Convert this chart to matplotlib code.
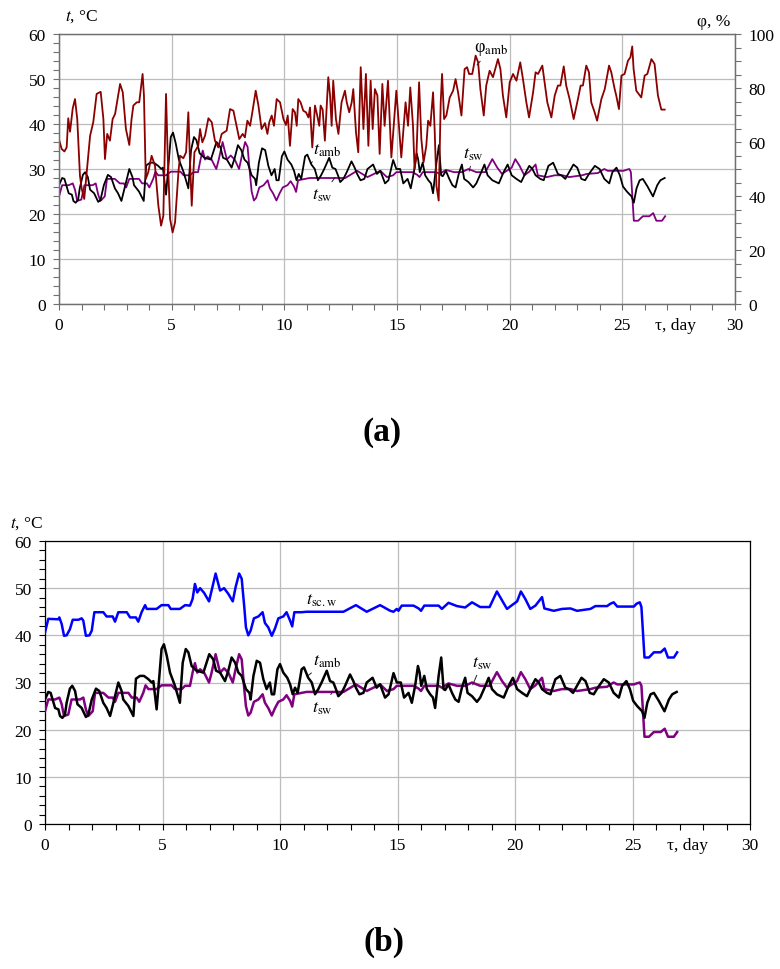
import matplotlib
matplotlib.use("Agg")
import matplotlib.pyplot as plt
from matplotlib.ticker import MultipleLocator

plt.rcParams['font.family'] = ['Liberation Serif', 'DejaVu Serif']
plt.rcParams['mathtext.fontset'] = 'stix'
plt.rcParams['font.size'] = 12

# ---------- data (days, values) ----------
# ambient temperature t_amb, °C
amb_day = [0, 0.14, 0.24, 0.43, 0.57, 0.64, 0.74, 0.85, 0.92, 1.06,
           1.16, 1.28, 1.38, 1.56, 1.74, 1.84, 1.99, 2.17, 2.31, 2.48,
           2.62, 2.77, 2.91, 3.12, 3.26, 3.33, 3.55, 3.76, 3.87, 4.04,
           4.21, 4.4, 4.54, 4.61, 4.75, 4.82, 4.96, 5.06, 5.18, 5.32,
           5.53, 5.74, 5.86, 5.99, 6.1, 6.24, 6.45, 6.74, 6.99, 7.16,
           7.28, 7.45, 7.66, 7.8, 7.94, 8.09, 8.23, 8.37, 8.55, 8.7,
           8.75, 8.87, 9.01, 9.15, 9.29, 9.43, 9.57, 9.65, 9.75, 9.89,
           10.0, 10.14, 10.31, 10.43, 10.54, 10.64, 10.75, 10.92, 11.02, 11.2,
           11.35, 11.49, 11.63, 11.77, 11.99, 12.13, 12.27, 12.38, 12.48, 12.62,
           12.77, 12.98, 13.12, 13.23, 13.38, 13.55, 13.69, 13.94, 14.11, 14.26,
           14.47, 14.62, 14.83, 14.97, 15.14, 15.28, 15.47, 15.61, 15.75, 15.87,
           15.94, 16.01, 16.14, 16.25, 16.39, 16.51, 16.6, 16.75, 16.86, 16.96,
           17.03, 17.17, 17.32, 17.46, 17.6, 17.74, 17.88, 17.98, 18.17, 18.38,
           18.52, 18.74, 18.88, 19.02, 19.23, 19.52, 19.73, 19.91, 20.09, 20.3,
           20.51, 20.72, 20.87, 21.01, 21.15, 21.36, 21.51, 21.72, 21.93, 22.14,
           22.29, 22.47, 22.64, 22.83, 23.0, 23.18, 23.35, 23.52, 23.78, 23.99,
           24.2, 24.42, 24.56, 24.74, 24.89, 25.03, 25.2, 25.41, 25.51, 25.63,
           25.77, 25.91, 26.12, 26.36, 26.55, 26.69, 26.88]
amb_val = [26.4, 28.0, 27.8, 24.6, 24.3, 22.9, 22.5, 23.2, 25.7, 28.7,
           29.3, 28.2, 25.4, 24.6, 22.7, 23.1, 26.4, 28.7, 28.2, 25.7,
           24.6, 22.9, 25.7, 30.0, 28.2, 26.4, 25.0, 22.9, 30.8, 31.4,
           31.4, 30.7, 30.0, 30.3, 24.3, 28.6, 37.1, 38.1, 35.7, 32.1,
           29.3, 25.7, 34.2, 37.1, 36.4, 33.5, 32.5, 32.1, 36.0, 34.9,
           32.5, 32.1, 30.3, 32.5, 35.3, 34.2, 32.1, 31.4, 28.6, 27.8,
           26.4, 31.4, 34.6, 34.2, 30.7, 28.6, 30.0, 27.5, 27.5, 32.8,
           33.9, 32.1, 31.0, 29.6, 27.5, 28.9, 27.8, 32.8, 33.2, 31.0,
           30.0, 27.5, 28.6, 30.0, 32.5, 30.3, 30.0, 28.6, 27.1, 27.8,
           29.3, 31.7, 30.3, 28.9, 27.5, 27.8, 30.0, 31.0, 28.9, 29.6,
           26.8, 27.5, 32.0, 30.0, 30.0, 26.8, 27.8, 25.7, 29.3, 33.5,
           32.1, 29.3, 31.4, 28.6, 27.5, 26.8, 24.6, 31.4, 35.3, 28.6,
           28.4, 29.6, 27.8, 26.4, 25.9, 28.9, 31.0, 27.8, 27.1, 25.9,
           26.8, 29.3, 31.0, 28.6, 27.5, 26.8, 29.3, 31.0, 28.6, 27.8,
           27.1, 29.3, 30.7, 30.0, 28.6, 27.8, 27.5, 30.7, 31.4, 28.9,
           28.6, 27.8, 29.3, 31.0, 30.3, 27.8, 27.5, 28.9, 30.7, 30.0,
           27.8, 26.8, 29.3, 30.3, 28.6, 26.1, 25.0, 23.9, 22.5, 25.7,
           27.5, 27.8, 26.1, 23.9, 26.4, 27.5, 28.0]

# sea water temperature t_sw, °C
sw_day = [0, 0.14, 0.43, 0.61, 0.71, 0.81, 0.99, 1.13, 1.49, 1.63,
          1.74, 1.84, 2.03, 2.13, 2.48, 2.7, 2.88, 2.98, 3.12, 3.55,
          3.69, 3.9, 4.01, 4.18, 4.28, 4.4, 4.75, 4.96, 5.39, 5.53,
          5.82, 5.96, 6.17, 6.28, 6.38, 6.48, 6.6, 6.77, 6.98, 7.09,
          7.26, 7.45, 7.62, 7.8, 7.99, 8.11, 8.26, 8.37, 8.48, 8.55,
          8.65, 8.75, 8.89, 9.08, 9.26, 9.36, 9.5, 9.65, 9.79, 9.93,
          10.14, 10.28, 10.43, 10.52, 10.61, 10.92, 11.13, 12.27, 12.7, 13.23,
          13.69, 14.26, 14.55, 14.83, 14.97, 15.68, 15.9, 16.0, 16.14, 16.75,
          16.89, 17.17, 17.53, 17.88, 18.17, 18.52, 18.92, 19.23, 19.45, 19.66,
          19.87, 20.09, 20.25, 20.44, 20.65, 20.87, 21.15, 21.25, 21.65, 22.0,
          22.36, 22.64, 23.21, 23.42, 23.92, 24.06, 24.2, 24.35, 25.06, 25.17,
          25.31, 25.38, 25.51, 25.7, 25.91, 26.2, 26.37, 26.51, 26.76, 26.9]
sw_val = [23.9, 26.4, 26.4, 26.8, 25.4, 22.9, 23.2, 26.4, 26.4, 26.8,
          24.3, 22.9, 23.9, 27.8, 27.8, 26.8, 26.8, 25.9, 27.8, 27.8,
          26.8, 26.8, 25.9, 27.8, 29.4, 28.6, 28.6, 29.4, 29.4, 28.6,
          28.6, 29.3, 29.3, 32.1, 34.1, 32.1, 32.8, 32.1, 30.0, 32.1,
          36.0, 32.1, 33.0, 32.1, 30.0, 32.8, 36.0, 34.9, 28.6, 25.0,
          23.0, 23.6, 25.9, 26.4, 27.5, 25.7, 24.6, 23.0, 24.6, 25.9,
          26.4, 27.3, 26.1, 24.9, 27.5, 27.8, 28.0, 28.0, 28.0, 29.6,
          28.2, 29.6, 28.2, 28.6, 29.3, 29.3, 28.7, 28.2, 29.3, 29.3,
          28.9, 29.8, 29.3, 29.3, 30.0, 29.3, 29.3, 32.2, 30.3, 28.9,
          29.6, 30.3, 32.2, 30.7, 28.6, 29.4, 31.0, 28.6, 28.2, 28.6,
          28.6, 28.2, 28.6, 28.9, 29.1, 29.6, 30.0, 29.6, 29.6, 29.8,
          30.0, 29.3, 18.5, 18.5, 19.5, 19.5, 20.2, 18.5, 18.5, 19.5]

# solar collector water temperature t_sc.w, °C
sc_day = [0, 0.14, 0.57, 0.61, 0.71, 0.81, 0.92, 1.06, 1.18, 1.42,
          1.56, 1.63, 1.74, 1.89, 1.99, 2.1, 2.48, 2.62, 2.88, 2.98,
          3.12, 3.48, 3.62, 3.87, 3.97, 4.11, 4.26, 4.33, 4.75, 4.96,
          5.25, 5.35, 5.74, 5.96, 6.17, 6.28, 6.38, 6.48, 6.6, 6.77,
          6.98, 7.09, 7.26, 7.45, 7.62, 7.8, 7.99, 8.11, 8.26, 8.37,
          8.48, 8.55, 8.65, 8.75, 8.89, 9.08, 9.26, 9.36, 9.5, 9.65,
          9.79, 9.93, 10.14, 10.28, 10.43, 10.52, 10.61, 10.92, 11.13, 12.27,
          12.7, 13.23, 13.69, 14.26, 14.69, 14.83, 14.97, 15.04, 15.18, 15.68,
          15.9, 16.0, 16.14, 16.75, 16.89, 17.17, 17.53, 17.88, 18.17, 18.52,
          18.92, 19.23, 19.45, 19.66, 19.87, 20.09, 20.25, 20.44, 20.65, 20.87,
          21.15, 21.25, 21.65, 22.0, 22.36, 22.64, 23.21, 23.42, 23.92, 24.06,
          24.2, 24.35, 25.06, 25.17, 25.31, 25.38, 25.51, 25.7, 25.91, 26.2,
          26.37, 26.51, 26.76, 26.9]
sc_val = [40.6, 43.5, 43.4, 43.8, 42.4, 39.9, 40.0, 41.3, 43.3, 43.3,
          43.6, 43.1, 39.9, 40.0, 41.0, 44.9, 44.9, 44.0, 44.0, 42.9,
          44.9, 44.9, 43.8, 43.8, 42.9, 44.9, 46.4, 45.6, 45.6, 46.4,
          46.4, 45.6, 45.6, 46.4, 46.3, 47.7, 50.9, 49.1, 50.0, 49.0,
          47.2, 49.5, 53.1, 49.5, 50.0, 48.8, 47.2, 50.2, 53.1, 52.0,
          46.0, 41.7, 40.0, 41.0, 43.6, 44.0, 44.9, 42.6, 41.7, 39.9,
          41.5, 43.6, 44.0, 44.9, 43.1, 41.9, 44.9, 44.9, 45.0, 45.0,
          45.0, 46.4, 45.0, 46.4, 45.2, 45.0, 45.6, 45.2, 46.3, 46.3,
          45.7, 45.2, 46.3, 46.3, 45.6, 46.9, 46.2, 45.9, 47.0, 46.0,
          46.0, 49.3, 47.4, 45.6, 46.4, 47.2, 49.3, 47.7, 45.6, 46.3,
          48.1, 45.7, 45.2, 45.6, 45.7, 45.2, 45.6, 46.2, 46.2, 46.7,
          47.0, 46.1, 46.1, 46.7, 47.0, 46.0, 35.3, 35.3, 36.4, 36.4,
          37.2, 35.3, 35.3, 36.4]

# ambient relative humidity phi_amb, %
phi_day = [0, 0.12, 0.24, 0.34, 0.41, 0.49, 0.61, 0.71, 0.81, 0.93,
           1.01, 1.12, 1.23, 1.38, 1.52, 1.67, 1.85, 1.97, 2.04, 2.14,
           2.26, 2.38, 2.49, 2.71, 2.83, 2.97, 3.12, 3.22, 3.3, 3.45,
           3.56, 3.71, 3.77, 3.85, 3.96, 4.11, 4.26, 4.41, 4.53, 4.63,
           4.75, 4.82, 4.93, 5.04, 5.15, 5.3, 5.37, 5.52, 5.64, 5.74,
           5.81, 5.89, 6.01, 6.18, 6.26, 6.36, 6.48, 6.63, 6.78, 6.92,
           7.07, 7.22, 7.44, 7.59, 7.74, 7.88, 8.0, 8.15, 8.25, 8.36,
           8.48, 8.58, 8.73, 8.85, 8.99, 9.14, 9.25, 9.33, 9.44, 9.54,
           9.66, 9.81, 9.96, 10.07, 10.15, 10.25, 10.37, 10.47, 10.55, 10.62,
           10.72, 10.84, 10.96, 11.07, 11.14, 11.24, 11.36, 11.46, 11.55, 11.61,
           11.7, 11.8, 11.95, 12.03, 12.1, 12.17, 12.29, 12.4, 12.54, 12.69,
           12.77, 12.88, 12.99, 13.06, 13.18, 13.28, 13.39, 13.51, 13.62, 13.73,
           13.83, 13.92, 14.02, 14.13,
           14.23, 14.35, 14.45, 14.6, 14.75, 14.97, 15.04, 15.19, 15.38, 15.49,
           15.59, 15.71, 15.78, 15.86, 15.98, 16.08, 16.18, 16.3, 16.38, 16.48,
           16.6, 16.67, 16.75, 16.85, 16.94, 17.0, 17.09, 17.19, 17.34, 17.49,
           17.6, 17.71, 17.86, 18.0, 18.11, 18.2, 18.34, 18.49, 18.6, 18.7,
           18.85, 18.96, 19.11, 19.26, 19.48, 19.59, 19.7, 19.85, 20.0, 20.15,
           20.3, 20.47, 20.59, 20.74, 20.86, 21.04, 21.15, 21.26, 21.45, 21.55,
           21.67, 21.85, 22.0, 22.14, 22.25, 22.4, 22.51, 22.66, 22.84, 23.03,
           23.15, 23.25, 23.4, 23.52, 23.62, 23.77, 23.88, 24.07, 24.22, 24.41,
           24.51, 24.66, 24.73, 24.85, 24.96, 25.1, 25.25, 25.36, 25.44, 25.5,
           25.62, 25.84, 25.99, 26.11, 26.29, 26.43, 26.58, 26.73, 26.88]
phi_val = [60.9, 57.4, 56.5, 58.0, 68.8, 63.8, 72.5, 75.9, 68.5, 47.5,
           42.6, 38.9, 48.8, 62.3, 67.3, 77.8, 78.6, 68.5, 53.7, 63.0,
           60.5, 68.5, 70.4, 81.5, 78.4, 64.8, 58.9, 68.5, 73.5, 74.7,
           74.7, 85.2, 77.2, 46.3, 48.8, 54.9, 51.2, 36.4, 29.0, 32.7,
           77.8, 56.2, 31.5, 26.5, 30.2, 48.8, 54.9, 54.0, 56.2, 71.0,
           53.7, 36.4, 56.2, 58.6, 64.8, 59.9, 62.3, 68.8, 67.3, 60.5,
           58.0, 63.0, 64.2, 72.2, 71.6, 66.0, 61.1, 63.0, 61.7, 67.9,
           66.0, 71.0, 79.0, 73.5, 64.8, 67.0, 63.0, 67.3, 69.8, 66.0,
           75.9, 74.7, 68.5, 66.3, 69.8, 58.6, 72.2, 71.0, 66.0, 75.9,
           74.7, 71.6, 71.0, 69.1, 72.8, 58.0, 73.5, 69.8, 66.0, 73.5,
           72.0, 60.5, 84.0, 77.2, 66.0, 82.7, 68.5, 63.0, 74.7, 79.0,
           74.7, 71.0, 74.7, 79.6, 63.6, 56.2, 87.7, 64.8, 85.2, 58.6,
           82.7, 64.8, 79.6, 77.2,
           55.6, 81.5, 66.0, 82.7, 54.3, 79.0, 71.0, 54.3, 74.7, 66.0,
           80.2, 66.0, 50.0, 54.9, 82.1, 61.1, 52.5, 58.6, 67.9, 66.0,
           78.4, 64.8, 43.8, 38.3, 74.7, 85.2, 68.5, 69.8, 76.5, 79.0,
           83.3, 78.4, 69.8, 87.0, 87.7, 85.2, 85.2, 92.0, 89.5, 79.6,
           69.8, 80.9, 86.4, 84.0, 90.7, 87.0, 77.2, 69.1, 82.1, 85.2,
           82.7, 89.5, 83.3, 74.7, 69.1, 78.4, 85.8, 85.2, 88.3, 82.1,
           74.7, 69.1, 77.2, 80.9, 80.9, 88.0, 80.9, 75.9, 68.5, 75.9,
           80.9, 80.9, 88.3, 85.8, 74.7, 71.0, 67.9, 75.9, 79.6, 88.3,
           85.8, 79.6, 77.2, 72.2, 84.6, 85.2, 90.1, 91.4, 95.4, 87.0,
           79.0, 76.5, 84.6, 85.2, 90.7, 88.9, 77.2, 72.0, 72.0]

C_AMB = 'black'
C_SW = '#800080'
C_SC = '#0000ff'
C_PHI = '#8b0000'
GRID = '#bcbcbc'


def style_axis(ax, spine_col):
    ax.set_xlim(0, 30)
    ax.set_ylim(0, 60)
    ax.xaxis.set_major_locator(MultipleLocator(5))
    ax.xaxis.set_minor_locator(MultipleLocator(1))
    ax.yaxis.set_major_locator(MultipleLocator(10))
    ax.yaxis.set_minor_locator(MultipleLocator(2))
    ax.tick_params(which='both', direction='out', length=4.5, width=0.8,
                   colors=spine_col, labelcolor='black', labelsize=12.5, pad=5)
    ax.grid(True, which='major', color=GRID, lw=0.9)
    ax.set_axisbelow(True)
    for s in ax.spines.values():
        s.set_color(spine_col)
        s.set_linewidth(0.9)
    # x-axis caption sits in the tick-label row
    ax.annotate('τ, day', xy=(27.35, 0), xycoords=('data', 'axes fraction'),
                xytext=(0, -9.5), textcoords='offset points',
                ha='center', va='top', fontsize=12.5)


def tag(ax, txt, xy_txt, xy_end=None):
    if xy_end is None:
        ax.text(xy_txt[0], xy_txt[1], txt, ha='center', va='center', fontsize=13)
    else:
        ax.annotate(txt, xy=xy_end, xytext=xy_txt, ha='center', va='center',
                    fontsize=13,
                    arrowprops=dict(arrowstyle='-', lw=0.7, color='#222222',
                                    shrinkA=1, shrinkB=0))


fig = plt.figure(figsize=(7.8, 9.7), dpi=100)

# ---------------- (a) ----------------
ax1 = fig.add_axes([59 / 780, 1 - 305 / 970, 676 / 780, 270 / 970])
style_axis(ax1, '#707070')
ax1.plot(sw_day, sw_val, color=C_SW, lw=1.3, zorder=3)
ax1.plot(amb_day, amb_val, color=C_AMB, lw=1.3, zorder=4)

ax1r = ax1.twinx()
ax1r.set_ylim(0, 100)
ax1r.yaxis.set_major_locator(MultipleLocator(20))
ax1r.yaxis.set_minor_locator(MultipleLocator(5))
ax1r.tick_params(which='both', direction='out', length=4.5, width=0.8,
                 colors='#707070', labelcolor='black', labelsize=12.5, pad=5)
for s in ax1r.spines.values():
    s.set_color('#707070')
    s.set_linewidth(0.9)
ax1r.plot(phi_day, phi_val, color=C_PHI, lw=1.3, zorder=2)

ax1.annotate('$t$, °C', xy=(0, 1), xycoords='axes fraction', xytext=(16.5, 13),
             textcoords='offset points', ha='center', va='center', fontsize=12.5)
ax1.annotate('φ, %', xy=(1, 1), xycoords='axes fraction', xytext=(-15, 9.5),
             textcoords='offset points', ha='center', va='center', fontsize=12.5)

tag(ax1, r'$t_{\rm amb}$', (11.9, 34.3), (11.15, 31.2))
tag(ax1, r'$t_{\rm sw}$', (11.7, 24.4), (12.25, 28.1))
tag(ax1, r'$t_{\rm sw}$', (18.4, 33.4), (18.2, 29.5))
ax1r.annotate(r'φ$_{\rm amb}$', xy=(18.55, 88.5), xytext=(19.15, 94.5),
              ha='center', va='center', fontsize=13,
              arrowprops=dict(arrowstyle='-', lw=0.7, color='#222222',
                              shrinkA=1, shrinkB=0))

fig.text(382 / 780, 1 - 433 / 970, '(a)', ha='center', va='center',
         fontsize=24, fontweight='bold')

# ---------------- (b) ----------------
ax2 = fig.add_axes([45 / 780, 1 - 825 / 970, 705 / 780, 283 / 970])
style_axis(ax2, 'black')
ax2.plot(sc_day, sc_val, color=C_SC, lw=1.8, zorder=3)
ax2.plot(sw_day, sw_val, color=C_SW, lw=1.8, zorder=3)
ax2.plot(amb_day, amb_val, color=C_AMB, lw=1.8, zorder=4)

ax2.annotate('$t$, °C', xy=(0, 1), xycoords='axes fraction', xytext=(-13.5, 13.5),
             textcoords='offset points', ha='center', va='center', fontsize=12.5)

tag(ax2, r'$t_{\rm sc.w}$', (11.75, 47.6))
tag(ax2, r'$t_{\rm amb}$', (12.0, 34.6), (11.15, 31.3))
tag(ax2, r'$t_{\rm sw}$', (11.8, 24.8), (12.25, 28.1))
tag(ax2, r'$t_{\rm sw}$', (18.6, 34.2), (18.2, 29.5))

fig.text(384 / 780, 1 - 942 / 970, '(b)', ha='center', va='center',
         fontsize=24, fontweight='bold')

fig.savefig('out.png', dpi=100)
